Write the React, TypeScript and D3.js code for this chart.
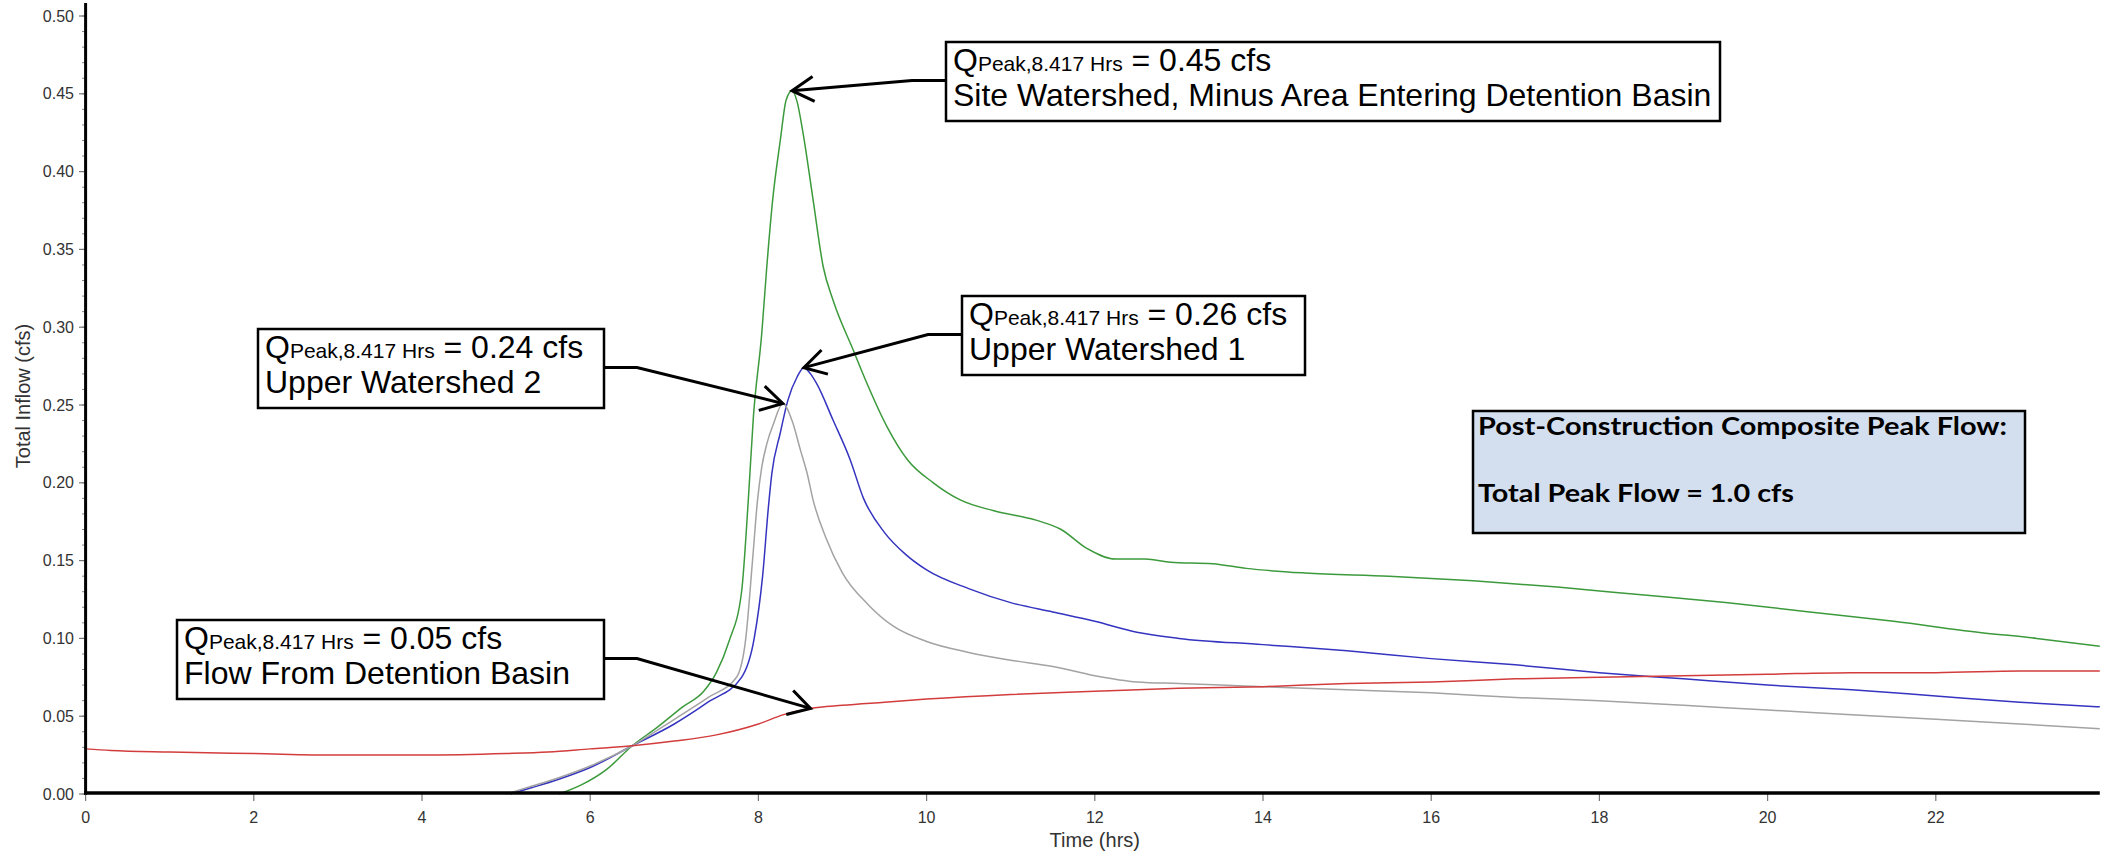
import * as d3 from 'd3';

const width = 2107;
const height = 857;
const font = "'Liberation Sans', Arial, sans-serif";

// hydrographs, [time (hrs), flow (cfs)]
const siteWatershed: [number, number][] = [
  [5.63, 0], [5.9, 0.006], [6.2, 0.016], [6.5, 0.031], [6.8, 0.043], [7.1, 0.056], [7.35, 0.066],
  [7.5, 0.078], [7.65, 0.098], [7.8, 0.13], [7.88, 0.189], [7.94, 0.242], [8.04, 0.296], [8.1, 0.339],
  [8.17, 0.382], [8.26, 0.42], [8.33, 0.446], [8.4, 0.452], [8.46, 0.445], [8.53, 0.425], [8.65, 0.382],
  [8.77, 0.339], [8.89, 0.317], [9.13, 0.285], [9.29, 0.264], [9.53, 0.236], [9.77, 0.215], [10.08, 0.2],
  [10.4, 0.189], [10.8, 0.182], [11.3, 0.176], [11.6, 0.17], [11.9, 0.158], [12.25, 0.151], [12.6, 0.151],
  [12.9, 0.149], [13.4, 0.148], [13.8, 0.145], [14.5, 0.142], [15.5, 0.14], [16.5, 0.137], [17.5, 0.133],
  [18.5, 0.128], [19.5, 0.123], [20.5, 0.117], [21.5, 0.111], [22.5, 0.104], [23.2, 0.1], [23.95, 0.095],
];
const upperWatershed1: [number, number][] = [
  [5.05, 0], [5.3, 0.004], [5.6, 0.009], [6.0, 0.017], [6.5, 0.031], [7.0, 0.045], [7.4, 0.059],
  [7.8, 0.075], [7.95, 0.1], [8.05, 0.14], [8.12, 0.185], [8.16, 0.206], [8.26, 0.232], [8.35, 0.253],
  [8.46, 0.268], [8.54, 0.274], [8.62, 0.27], [8.69, 0.264], [8.89, 0.24], [9.09, 0.215], [9.25, 0.19],
  [9.5, 0.168], [9.75, 0.154], [10.0, 0.144], [10.5, 0.132], [11.0, 0.123], [11.5, 0.117], [12.0, 0.111],
  [12.5, 0.104], [13.0, 0.1], [14.0, 0.096], [15.0, 0.092], [16.0, 0.087], [17.0, 0.083], [18.0, 0.078],
  [19.0, 0.074], [20.0, 0.07], [21.0, 0.067], [22.0, 0.063], [23.0, 0.059], [23.95, 0.056],
];
const upperWatershed2: [number, number][] = [
  [5.0, 0], [5.3, 0.005], [5.6, 0.01], [6.0, 0.018], [6.5, 0.031], [7.0, 0.048], [7.4, 0.062],
  [7.74, 0.075], [7.85, 0.1], [7.93, 0.15], [7.99, 0.189], [8.04, 0.21], [8.1, 0.225], [8.18, 0.238],
  [8.29, 0.251], [8.4, 0.24], [8.5, 0.221], [8.58, 0.206], [8.65, 0.189], [8.8, 0.165], [9.0, 0.142],
  [9.3, 0.122], [9.6, 0.108], [10.0, 0.098], [10.5, 0.091], [11.0, 0.086], [11.5, 0.082], [12.0, 0.076],
  [12.5, 0.072], [13.0, 0.071], [14.0, 0.069], [15.0, 0.067], [16.0, 0.065], [17.0, 0.062], [18.0, 0.06],
  [19.0, 0.057], [20.0, 0.054], [21.0, 0.051], [22.0, 0.048], [23.0, 0.045], [23.95, 0.042],
];
const detentionOutflow: [number, number][] = [
  [0, 0.029], [0.3, 0.028], [1.0, 0.027], [2.0, 0.026], [3.0, 0.025], [4.0, 0.025], [5.0, 0.026],
  [5.5, 0.027], [6.0, 0.029], [6.5, 0.031], [7.0, 0.034], [7.5, 0.038], [8.0, 0.045], [8.3, 0.051],
  [8.62, 0.055], [9.0, 0.057], [9.5, 0.059], [10.0, 0.061], [11.0, 0.064], [12.0, 0.066], [13.0, 0.068],
  [14.0, 0.069], [15.0, 0.071], [16.0, 0.072], [17.0, 0.074], [18.0, 0.075], [19.0, 0.076], [20.0, 0.077],
  [21.0, 0.078], [22.0, 0.078], [23.0, 0.079], [23.95, 0.079],
];

const seriesNames = [
  'Site Watershed, Minus Area Entering Detention Basin',
  'Upper Watershed 1',
  'Upper Watershed 2',
  'Flow From Detention Basin',
];
const peakFlows = ['0.45', '0.26', '0.24', '0.05'];
const peakTime = '8.417';
const pointedTimes = [8.4, 8.54, 8.29, 8.62];
const xTicks = [0, 2, 4, 6, 8, 10, 12, 14, 16, 18, 20, 22];
const summaryLines = ['Post-Construction Composite Peak Flow:', 'Total Peak Flow = 1.0 cfs'];

const allSeries = [siteWatershed, upperWatershed1, upperWatershed2, detentionOutflow];
const colors = ['#3c9a3c', '#3434c0', '#a3a3a3', '#d23c3c'];

// annotation boxes: x, y, w, side the leader leaves from
const boxes = [
  { x: 946, y: 42, w: 774, side: 'left' },
  { x: 962, y: 296, w: 343, side: 'left' },
  { x: 258, y: 329, w: 346, side: 'right' },
  { x: 177, y: 620, w: 427, side: 'right' },
];

const x = d3.scaleLinear().domain([0, 24]).range([85.6, 85.6 + 24 * 84.1]);
const y = d3.scaleLinear().domain([0, 0.5]).range([794, 16]);

const line = d3.line<[number, number]>()
  .x(d => x(d[0]))
  .y(d => y(d[1]))
  .curve(d3.curveMonotoneX);

function arrowHead(tx: number, ty: number, fx: number, fy: number) {
  const a = Math.atan2(fy - ty, fx - tx);
  const len = 25, spread = Math.PI / 6;
  const p1 = [tx + len * Math.cos(a - spread), ty + len * Math.sin(a - spread)];
  const p2 = [tx + len * Math.cos(a + spread), ty + len * Math.sin(a + spread)];
  return `M${p1[0]},${p1[1]}L${tx},${ty}L${p2[0]},${p2[1]}`;
}

export default function App() {
  const boxH = 79;
  return (
    <svg width={width} height={height} style={{ position: 'absolute', left: 0, top: 0, background: '#fff' }}>
      {/* series */}
      {allSeries.map((s, i) => (
        <path key={i} d={line(s) || ''} fill="none" stroke={colors[i]} strokeWidth={1.5} />
      ))}

      {/* y axis */}
      {y.ticks(50).map((t, i) => (
        <line key={'m' + i} x1={82} x2={85} y1={y(t)} y2={y(t)} stroke="#888" strokeWidth={1} />
      ))}
      {y.ticks(10).map((t, i) => (
        <g key={'y' + i}>
          <line x1={79} x2={85} y1={y(t)} y2={y(t)} stroke="#777" strokeWidth={1.2} />
          <text x={74} y={y(t) + 5.5} textAnchor="end" fontFamily={font} fontSize={16} fill="#333">
            {d3.format('.2f')(t)}
          </text>
        </g>
      ))}
      <line x1={85.6} x2={85.6} y1={3} y2={795} stroke="#000" strokeWidth={3} />
      <text transform={`translate(30,${396}) rotate(-90)`} textAnchor="middle" fontFamily={font}
        fontSize={20} fill="#333">Total Inflow (cfs)</text>

      {/* x axis */}
      {xTicks.map(t => (
        <g key={'x' + t}>
          <line x1={x(t)} x2={x(t)} y1={793} y2={801} stroke="#777" strokeWidth={1.2} />
          <text x={x(t)} y={823} textAnchor="middle" fontFamily={font} fontSize={16} fill="#333">{t}</text>
        </g>
      ))}
      <line x1={84} x2={x(23.95)} y1={793} y2={793} stroke="#000" strokeWidth={3.5} />
      <text x={x(12)} y={847} textAnchor="middle" fontFamily={font} fontSize={20} fill="#333">Time (hrs)</text>

      {/* annotations */}
      {boxes.map((b, i) => {
        const s = allSeries[i];
        const target = s.reduce((p, c) => Math.abs(c[0] - pointedTimes[i]) < Math.abs(p[0] - pointedTimes[i]) ? c : p);
        const tx = x(target[0]);
        const ty = y(target[1]);
        const ey = b.y + boxH / 2 - 1;
        const ex = b.side === 'left' ? b.x : b.x + b.w;
        const kx = b.side === 'left' ? b.x - 34 : b.x + b.w + 33;
        return (
          <g key={'a' + i}>
            <path d={`M${ex},${ey}L${kx},${ey}L${tx},${ty}`} fill="none" stroke="#000" strokeWidth={3} />
            <path d={arrowHead(tx, ty, kx, ey)} fill="none" stroke="#000" strokeWidth={3} />
            <rect x={b.x} y={b.y} width={b.w} height={boxH} fill="#fff" stroke="#000" strokeWidth={2.5} />
            <text x={b.x + 7} y={b.y + 29} fontFamily={font} fill="#000" style={{ whiteSpace: 'pre' }}>
              <tspan fontSize={32}>Q</tspan>
              <tspan fontSize={21}>{`Peak,${peakTime} Hrs`}</tspan>
              <tspan fontSize={32}>{` = ${peakFlows[i]} cfs`}</tspan>
            </text>
            <text x={b.x + 7} y={b.y + 64} fontFamily={font} fontSize={32} fill="#000">{seriesNames[i]}</text>
          </g>
        );
      })}

      {/* summary box */}
      <rect x={1473} y={411} width={552} height={122} fill="#d3dfee" stroke="#000" strokeWidth={2.5} />
      <text x={1478} y={435} fontFamily="Lato, 'Open Sans', sans-serif" fontWeight={700} fontSize={24}
        textLength={529} lengthAdjust="spacingAndGlyphs" fill="#000">{summaryLines[0]}</text>
      <text x={1478} y={502} fontFamily="Lato, 'Open Sans', sans-serif" fontWeight={700} fontSize={24}
        textLength={316} lengthAdjust="spacingAndGlyphs" fill="#000">{summaryLines[1]}</text>
    </svg>
  );
}
